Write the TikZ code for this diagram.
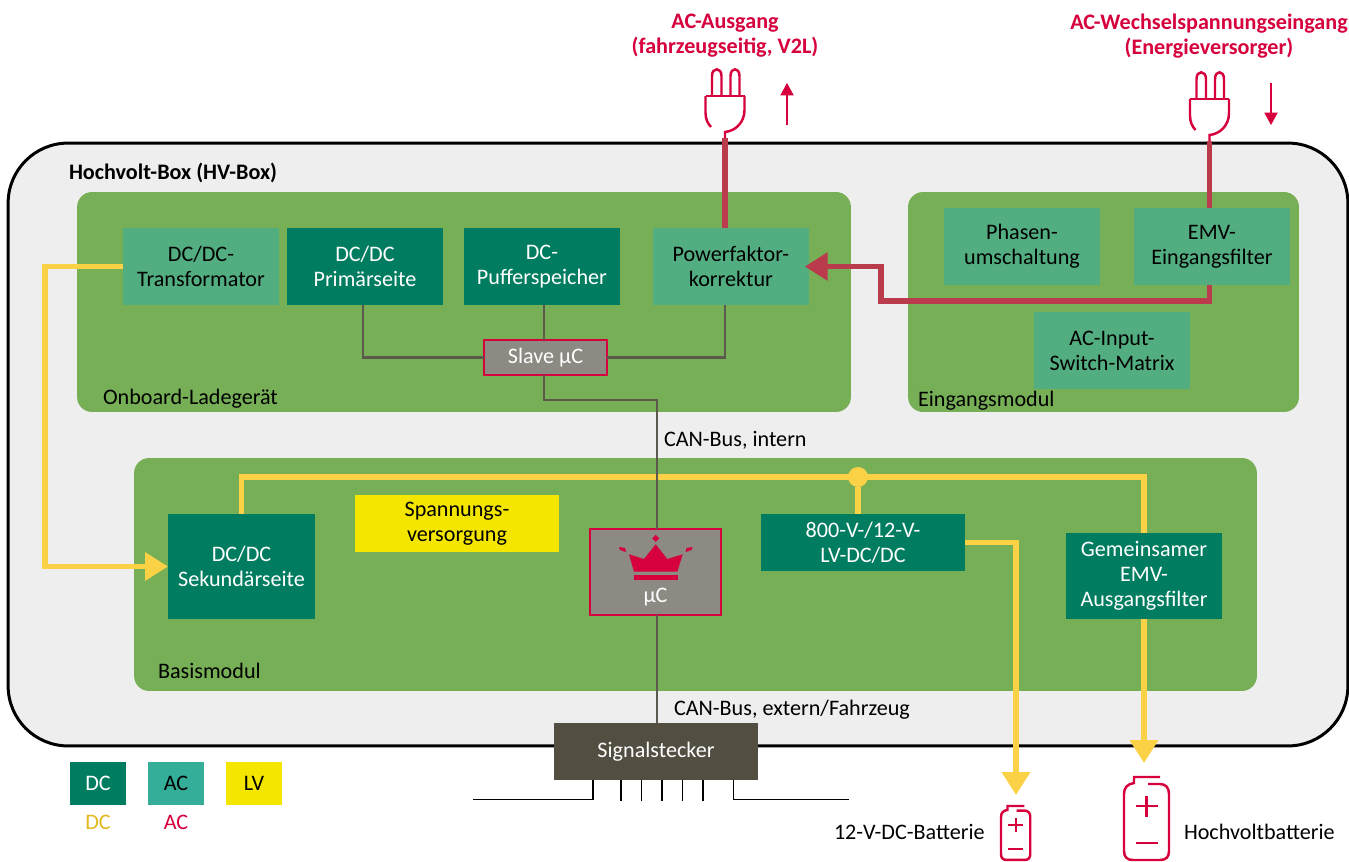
\documentclass[tikz,border=0pt]{standalone}
\usepackage{fontspec}
\setmainfont{Carlito}
\usetikzlibrary{arrows.meta, positioning}
\definecolor{hvgray}{HTML}{EEEEEE}
\definecolor{panelgreen}{HTML}{76AF56}
\definecolor{dcgreen}{HTML}{007D60}
\definecolor{acgreen}{HTML}{52AE80}
\definecolor{legendac}{HTML}{34AE99}
\definecolor{lvyellow}{HTML}{F5E600}
\definecolor{dcyellow}{HTML}{FBD145}
\definecolor{legenddc}{HTML}{E2B91E}
\definecolor{acred}{HTML}{B93B4C}
\definecolor{plugred}{HTML}{D5003C}
\definecolor{cangray}{HTML}{5C5A4E}
\definecolor{ucgray}{HTML}{8C8A82}
\definecolor{sigbrown}{HTML}{524E42}
\tikzset{
  txt/.style = {font=\fontsize{12.6}{14.2}\selectfont, align=center, inner sep=0pt, outer sep=0pt},
  lbl/.style = {txt, anchor=west},
  head/.style = {txt, font=\fontsize{12.6}{14.2}\selectfont\bfseries, text=plugred},
  panel/.style = {rectangle, fill=panelgreen, rounded corners=0.3cm, inner sep=0pt},
  box/.style = {txt, rectangle, minimum width=3.12cm, minimum height=1.54cm},
  dcbox/.style = {box, fill=dcgreen, text=white},
  acbox/.style = {box, fill=acgreen},
  ctrl/.style = {txt, rectangle, draw=plugred, fill=ucgray, text=white, line width=0.8pt},
  legendbox/.style = {txt, rectangle, minimum width=1.12cm, minimum height=0.86cm},
  dot/.style = {circle, fill=dcyellow, minimum size=0.4cm, inner sep=0pt},
  dcarr/.style = {draw=dcyellow, line width=3.1pt, -{Triangle[length=13pt,width=15.5pt]}},
  acarr/.style = {draw=acred, line width=3.1pt, -{Triangle[length=13pt,width=15.5pt]}},
  dcline/.style = {draw=dcyellow, line width=3.1pt},
  acline/.style = {draw=acred, line width=3.1pt},
  canline/.style = {draw=cangray, line width=1.4pt},
  pinline/.style = {draw=black, line width=0.8pt},
  dirarr/.style = {draw=plugred, line width=0.7pt, -{Triangle[length=7pt,width=7.5pt]}},
  icon/.style = {draw=plugred, line width=1.4pt},
  plug/.pic = {
    \draw[icon] (-19.5,0) -- (19.5,0);
    \draw[icon] (-13,0) -- (-13,-20) .. controls (-13,-29) and (-3.5,-29) .. (-3.5,-20) -- (-3.5,0);
    \draw[icon] (5.5,0) -- (5.5,-20) .. controls (5.5,-29) and (14.5,-29) .. (14.5,-20) -- (14.5,0);
    \draw[icon] (-19.5,0) -- (-19.5,17) .. controls (-19.5,23) and (-17,28) .. (-14,31);
    \draw[icon] (19.5,0) -- (19.5,14) .. controls (19.5,27) and (10,35) .. (0,36) -- (0,42);
    \coordinate (-stem) at (0,42);
  },
  battery/.pic = {
    \draw[icon] (36,0) -- (10,0) -- (10,6) .. controls (3,7) and (0,11) .. (0,17) -- (0,74)
      .. controls (0,80) and (3,83) .. (9,83) -- (36,83) .. controls (42,83) and (45,80) .. (45,74)
      -- (45,17) .. controls (45,11) and (42,7) .. (36,7) -- (24,7);
    \draw[icon] (11.5,29) -- (34,29);
    \draw[icon] (22.7,18.5) -- (22.7,39.5);
    \draw[icon] (11.5,66) -- (34,66);
  }
}

\begin{document}
\begin{tikzpicture}[x=0.02cm, y=-0.02cm]
\useasboundingbox (0,0) rectangle (1349,862);

% ----- PANELS -----
\node[rectangle, draw=black, fill=hvgray, line width=1.7pt, rounded corners=1.2cm, inner sep=0pt,
  minimum width=26.8cm, minimum height=12.06cm] (hvbox) at (678,444.5) {};
\node[panel, minimum width=15.48cm, minimum height=4.4cm] (onboard) at (464,302) {};
\node[panel, minimum width=7.82cm, minimum height=4.4cm] (inmod) at (1103.5,302) {};
\node[panel, minimum width=22.46cm, minimum height=4.66cm] (basis) at (695.5,574.5) {};

\node[lbl, font=\fontsize{12.6}{14.2}\selectfont\bfseries] (hvlabel) at (69,173) {Hochvolt-Box (HV-Box)};
\node[lbl] (onboardlabel) at (103,398.5) {Onboard-Ladegerät};
\node[lbl] (inmodlabel) at (918,401) {Eingangsmodul};
\node[lbl] (basislabel) at (158,671) {Basismodul};

% Row 1
\node[acbox] (trafo) at (201,266.5) {DC/DC-\\Transformator};
\node[dcbox, right=0.16cm of trafo] (prim) {DC/DC\\Primärseite};
\node[dcbox, right=0.42cm of prim] (puffer) {DC-\\Pufferspeicher};
\node[acbox, right=0.66cm of puffer] (pfc) {Powerfaktor-\\korrektur};
\node[acbox] (phasen) at (1022,246.5) {Phasen-\\umschaltung};
\node[acbox, right=0.68cm of phasen] (emv) {EMV-\\Eingangsfilter};
\node[acbox] (matrix) at (1112,350.5) {AC-Input-\\Switch-Matrix};
\node[ctrl, minimum width=2.46cm, minimum height=0.7cm] (slave) at (545.5,357.5) {Slave µC};

% Row 2
\node[dcbox, minimum width=2.94cm, minimum height=2.1cm] (sek) at (241.5,566.5) {DC/DC\\Sekundärseite};
\node[box, fill=lvyellow, minimum width=4.08cm, minimum height=1.14cm] (versorgung) at (457,523.5) {Spannungs-\\versorgung};
\node[ctrl, minimum width=2.62cm, minimum height=1.72cm] (uc) at (655.5,572) {};
\node[txt, text=white] (uctext) at (655.5,597) {µC};
\node[dcbox, minimum width=4.08cm, minimum height=1.14cm] (lvdc) at (863,542.5) {800-V-/12-V-\\LV-DC/DC};
\node[dcbox, minimum height=1.72cm] (gem) at (1144,576) {Gemeinsamer\\EMV-\\Ausgangsfilter};
\node[dot] (busdot) at (858,477) {};

% crown
\fill[plugred] (629,554.3) -- (644,559) -- (655.7,544.3) -- (667.3,559) -- (682.7,554.3) -- (677.3,571.7) -- (634,571.7) -- cycle;
\fill[plugred] (634,574.7) rectangle (678,580);
\fill[plugred] (655.7,534.8) -- (659.2,538.3) -- (655.7,541.8) -- (652.2,538.3) -- cycle;
\fill[plugred] (619,547) -- (625,548) -- (626,552) -- (620,550) -- cycle;
\fill[plugred] (692.5,547) -- (686.5,548) -- (685.5,552) -- (691.5,550) -- cycle;

% Signal connector and icons
\node[txt, rectangle, fill=sigbrown, text=white, minimum width=4.08cm, minimum height=1.14cm] (sig) at (656,751.5) {Signalstecker};
\pic (plugout) at (725,96) {plug};
\pic (plugin) at (1209.5,99) {plug};
\pic (batlv) at (1001,806) [scale=0.65] {battery};
\pic (bathv) at (1124,777) {battery};

% ----- TEXTS -----
\node[head] (outlabel) at (725,36) {AC-Ausgang\\(fahrzeugseitig, V2L)};
\node[head] (inlabel) at (1209,36) {AC-Wechselspannungseingang\\(Energieversorger)};
\node[lbl] (canint) at (664,440) {CAN-Bus, intern};
\node[lbl] (canext) at (674,710) {CAN-Bus, extern/Fahrzeug};
\node[lbl] (batlvlabel) at (834,832) {12-V-DC-Batterie};
\node[lbl] (bathvlabel) at (1184,832) {Hochvoltbatterie};

% ----- LEGEND -----
\node[legendbox, fill=dcgreen, text=white] (legdc) at (98,783.5) {DC};
\node[legendbox, fill=legendac] (legac) at (176,783.5) {AC};
\node[legendbox, fill=lvyellow] (leglv) at (254,783.5) {LV};
\node[txt, text=legenddc] (legdctext) at (98,822) {DC};
\node[txt, text=plugred] (legactext) at (176,822) {AC};

% ----- ARROWS -----
\coordinate (outup1) at (787,125);
\coordinate (outup2) at (787,83);
\coordinate (indown1) at (1271,83);
\coordinate (indown2) at (1271,125);
\draw[dirarr] (outup1) -- (outup2);
\draw[dirarr] (indown1) -- (indown2);

% AC path
\coordinate (acbend) at (881,301);
\draw[acline] (plugout-stem) -- (plugout-stem |- pfc.north);
\draw[acline] (plugin-stem) -- (plugin-stem |- emv.north);
\draw[acarr, shorten >=-2.3pt] (plugin-stem |- emv.south) |- (acbend) |- (pfc.east);

% DC path
\coordinate (dcbend) at (45,400);
\draw[dcarr] (trafo.west) -| (dcbend) |- (sek.west);
\coordinate (busbend) at (gem.north |- busdot);
\draw[dcline] (sek.north) |- (busbend) -- (gem.north);
\draw[dcline] (busdot |- lvdc.north) -- (busdot);
\coordinate (hvtip) at (1145,763);
\coordinate (lvtip) at (1016,795);
\draw[dcarr] (gem.south) -- (gem.south |- hvtip);
\draw[dcarr] (lvdc.east) -| (lvtip);

% CAN bus
\coordinate (canx) at (657,500);
\draw[canline] ([xshift=-0.04cm]prim.south) |- (slave.west);
\draw[canline] ([xshift=0.04cm]puffer.south) -- ([xshift=0.04cm]puffer.south |- slave.north);
\draw[canline] (plugout-stem |- pfc.south) |- (slave.east);
\draw[canline] ([xshift=-0.03cm]slave.south) -- ++(0,25) -| (canx |- uc.north);
\draw[canline] (canx |- uc.south) -- (canx |- sig.north);

% Signal pins
\coordinate (legleft) at (473,799.5);
\coordinate (legright) at (849,799.5);
\draw[pinline] (sig.south -| 593,0) |- (legleft);
\draw[pinline] (sig.south -| 733.5,0) |- (legright);
\foreach \i/\x in {1/621, 2/641.7, 3/662, 4/682.7, 5/703} {
  \coordinate (pin\i) at (\x,801);
  \draw[pinline] (sig.south -| pin\i) -- (pin\i);
}
\end{tikzpicture}
\end{document}
